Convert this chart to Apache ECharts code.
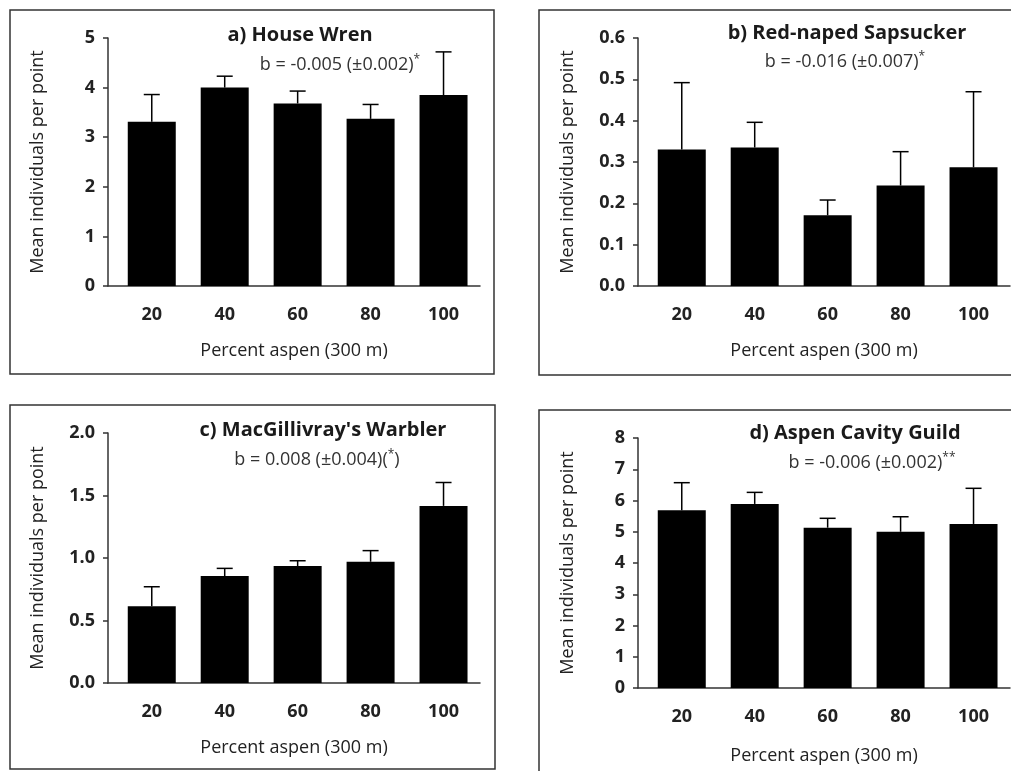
<!DOCTYPE html>
<html>
<head>
<meta charset="utf-8">
<script src="https://cdn.jsdelivr.net/npm/echarts@6/dist/echarts.min.js"></script>
<style>
html,body{margin:0;padding:0;background:#fff;}
#chart{width:1011px;height:771px;}
</style>
</head>
<body>
<div id="chart"></div>
<script>
// ---- data ----
const xValues = [20, 40, 60, 80, 100];
const xTickLabels = ['20', '40', '60', '80', '100'];

const wrenMean = [3.31, 4.00, 3.68, 3.37, 3.85];
const wrenSE   = [0.55, 0.23, 0.25, 0.29, 0.87];

const sapsuckerMean = [0.330, 0.335, 0.171, 0.243, 0.287];
const sapsuckerSE   = [0.162, 0.061, 0.037, 0.082, 0.183];

const warblerMean = [0.615, 0.856, 0.936, 0.970, 1.417];
const warblerSE   = [0.155, 0.061, 0.042, 0.089, 0.187];

const guildMean = [5.69, 5.89, 5.13, 5.00, 5.25];
const guildSE   = [0.88, 0.37, 0.30, 0.48, 1.14];

const titles = ['a) House Wren', 'b) Red-naped Sapsucker', "c) MacGillivray's Warbler", 'd) Aspen Cavity Guild'];
const slopes = [
  ['b = -0.005 (±0.002)', '*', ''],
  ['b = -0.016 (±0.007)', '*', ''],
  ['b = 0.008 (±0.004)(', '*', ')'],
  ['b = -0.006 (±0.002)', '**', '']
];
const yTitle = 'Mean individuals per point';
const xTitle = 'Percent aspen (300 m)';
const yMax = [5, 0.6, 2, 8];
const yInterval = [1, 0.1, 0.5, 1];
const yDecimals = [0, 1, 1, 0];

const means = [wrenMean, sapsuckerMean, warblerMean, guildMean];
const ses = [wrenSE, sapsuckerSE, warblerSE, guildSE];

// ---- layout ----
const FONT = '"Open Sans", "Liberation Sans", sans-serif';
const grids = [
  {left: 108, top: 38, width: 372, height: 248},
  {left: 638, top: 38, width: 372, height: 248},
  {left: 108, top: 433, width: 372, height: 250},
  {left: 638, top: 438, width: 372, height: 250}
];
const frames = [
  {x: 10, y: 10, width: 484, height: 364},
  {x: 539, y: 10, width: 480, height: 365},
  {x: 10, y: 405, width: 485, height: 364},
  {x: 539, y: 410, width: 480, height: 400}
];
const titlePos = [[300, 35], [847, 33], [323, 430], [855, 433]];
const slopePos = [[340, 65], [845, 62], [317, 460], [872, 463]];
const xNameGap = [56, 56, 56, 59];

const xAxes = [], yAxes = [], series = [], graphics = [];

for (let i = 0; i < 4; i++) {
  xAxes.push({
    gridIndex: i, type: 'value', min: 8, max: 110,
    splitLine: {show: false},
    axisTick: {show: false},
    axisLine: {show: true, onZero: false, lineStyle: {color: '#333', width: 1.5}},
    axisLabel: {
      customValues: xValues,
      formatter: v => xTickLabels[xValues.indexOf(v)] || '',
      fontFamily: FONT, fontSize: 18, fontWeight: 'bold', color: '#222', margin: 20
    },
    name: xTitle, nameLocation: 'middle', nameGap: xNameGap[i],
    nameTextStyle: {fontFamily: FONT, fontSize: 18, color: '#222'}
  });
  yAxes.push({
    gridIndex: i, type: 'value', min: 0, max: yMax[i], interval: yInterval[i],
    splitLine: {show: false},
    axisLine: {show: true, lineStyle: {color: '#333', width: 1.5}},
    axisTick: {show: true, inside: false, length: 5, lineStyle: {color: '#333', width: 1.5}},
    axisLabel: {
      formatter: v => v.toFixed(yDecimals[i]),
      fontFamily: FONT, fontSize: 18, fontWeight: 'bold', color: '#222', margin: 13
    },
    name: yTitle, nameLocation: 'middle', nameGap: 61,
    nameTextStyle: {fontFamily: FONT, fontSize: 18, color: '#222'}
  });
  series.push({
    type: 'bar', xAxisIndex: i, yAxisIndex: i, barWidth: 48,
    itemStyle: {color: '#000'},
    data: xValues.map((x, k) => [x, means[i][k]])
  });
  series.push({
    type: 'custom', xAxisIndex: i, yAxisIndex: i, z: 5,
    encode: {x: 0, y: 1},
    data: xValues.map((x, k) => [x, means[i][k], ses[i][k]]),
    renderItem: function (params, api) {
      const x = api.value(0), m = api.value(1), e = api.value(2);
      const b = api.coord([x, m]);
      const t = api.coord([x, m + e]);
      const st = {stroke: '#000', lineWidth: 1.5};
      return {type: 'group', children: [
        {type: 'line', shape: {x1: b[0], y1: b[1], x2: t[0], y2: t[1]}, style: st},
        {type: 'line', shape: {x1: t[0] - 8, y1: t[1], x2: t[0] + 8, y2: t[1]}, style: st}
      ]};
    }
  });
  graphics.push({
    type: 'rect', silent: true, z: 0,
    shape: frames[i],
    style: {fill: 'none', stroke: '#333', lineWidth: 1.5}
  });
  graphics.push({
    type: 'text', x: titlePos[i][0], y: titlePos[i][1], z: 10,
    style: {text: titles[i], fill: '#1a1a1a', font: 'bold 20px ' + FONT, align: 'center', verticalAlign: 'middle'}
  });
  const s = slopes[i];
  graphics.push({
    type: 'text', x: slopePos[i][0], y: slopePos[i][1], z: 10,
    style: {
      text: '{n|' + s[0] + '}{s|' + s[1] + '}' + (s[2] ? '{n|' + s[2] + '}' : ''),
      align: 'center', verticalAlign: 'middle',
      rich: {
        n: {fontFamily: FONT, fontSize: 18, fill: '#333', color: '#333', lineHeight: 22},
        s: {fontFamily: FONT, fontSize: 12, fill: '#333', color: '#333', verticalAlign: 'top', lineHeight: 22}
      }
    }
  });
}

const chart = echarts.init(document.getElementById('chart'), null, {renderer: 'canvas'});
chart.setOption({
  animation: false,
  backgroundColor: '#fff',
  grid: grids,
  xAxis: xAxes,
  yAxis: yAxes,
  series: series,
  graphic: graphics
});
</script>
</body>
</html>
